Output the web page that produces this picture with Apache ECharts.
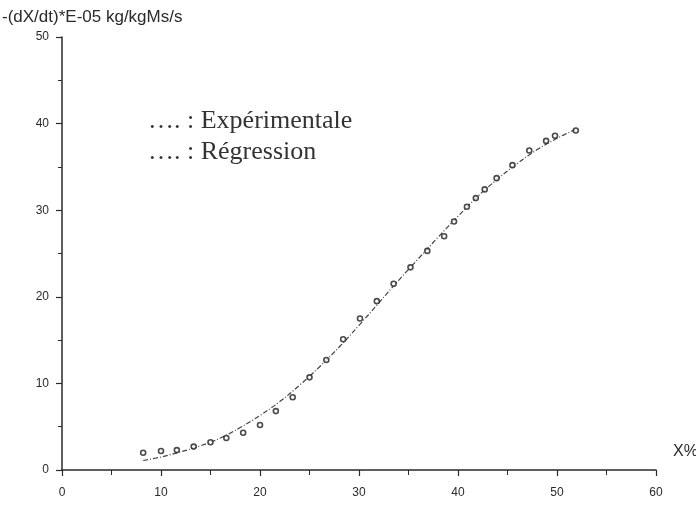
<!DOCTYPE html>
<html>
<head>
<meta charset="utf-8">
<script src="https://cdn.jsdelivr.net/npm/echarts@6/dist/echarts.min.js"></script>
<style>
  html, body { margin: 0; padding: 0; background: #fff; }
  #chart { width: 696px; height: 508px; }
</style>
</head>
<body>
<div id="chart"></div>
<script>
// Drying rate against moisture content X%
const expX = [8.2, 10.0, 11.6, 13.3, 15.0, 16.6, 18.3, 20.0, 21.6, 23.3, 25.0, 26.7, 28.4, 30.1, 31.8, 33.5, 35.2, 36.9, 38.6, 39.6, 40.9, 41.8, 42.7, 43.9, 45.5, 47.2, 48.9, 49.8, 51.9];
const expY = [2.0, 2.2, 2.3, 2.7, 3.2, 3.7, 4.3, 5.2, 6.8, 8.4, 10.7, 12.7, 15.1, 17.5, 19.5, 21.5, 23.4, 25.3, 27.0, 28.7, 30.4, 31.4, 32.4, 33.7, 35.2, 36.9, 38.0, 38.6, 39.2];

const regX = [8.2, 10, 12, 14, 16, 18, 20, 22, 24, 26, 28, 30, 32, 34, 36, 38, 40, 42, 44, 46, 48, 50, 52];
const regY = [1.1, 1.5, 2.1, 2.8, 3.7, 4.9, 6.3, 7.9, 9.8, 11.9, 14.2, 16.7, 19.3, 21.9, 24.4, 26.9, 29.3, 31.6, 33.6, 35.4, 37.0, 38.3, 39.4];

const xTicks = [0, 10, 20, 30, 40, 50, 60];
const yTicks = [0, 10, 20, 30, 40, 50];

const yTitle = '-(dX/dt)*E-05 kg/kgMs/s';
const xTitle = 'X%';
const legendLines = ['…. : Expérimentale', '…. : Régression'];

const ink = '#2a2a2a';
const chart = echarts.init(document.getElementById('chart'));

chart.setOption({
  backgroundColor: '#fff',
  animation: false,
  grid: { left: 62, right: 40, top: 37, bottom: 38 },
  xAxis: {
    type: 'value',
    min: xTicks[0], max: xTicks[xTicks.length - 1], interval: 10,
    axisLine: { show: true, lineStyle: { color: ink, width: 1.5 } },
    axisTick: { show: true, length: 6, lineStyle: { color: ink, width: 1.2 } },
    minorTick: { show: true, splitNumber: 2, length: 5, lineStyle: { color: ink } },
    splitLine: { show: false },
    axisLabel: { color: ink, fontSize: 12, fontFamily: 'Liberation Sans', margin: 17 }
  },
  yAxis: {
    type: 'value',
    min: yTicks[0], max: yTicks[yTicks.length - 1], interval: 10,
    axisLine: { show: true, lineStyle: { color: ink, width: 1.5 } },
    axisTick: { show: true, length: 6, lineStyle: { color: ink, width: 1.2 } },
    minorTick: { show: true, splitNumber: 2, length: 4, lineStyle: { color: ink } },
    splitLine: { show: false },
    axisLabel: { color: ink, fontSize: 12, fontFamily: 'Liberation Sans', margin: 13 }
  },
  series: [
    {
      name: 'Régression',
      type: 'line',
      data: regX.map((x, i) => [x, regY[i]]),
      smooth: 0.4,
      showSymbol: false,
      lineStyle: { color: '#444', width: 1.2, type: [5, 2, 1, 2] },
      z: 2
    },
    {
      name: 'Expérimentale',
      type: 'scatter',
      data: expX.map((x, i) => [x, expY[i]]),
      symbol: 'circle',
      symbolSize: 5,
      itemStyle: { color: '#fff', borderColor: '#1e1e1e', borderWidth: 1.6 },
      z: 3
    }
  ],
  graphic: [
    { type: 'text', left: 2, top: 9,
      style: { text: yTitle, fill: ink, font: '17px "Liberation Sans"' } },
    { type: 'text', left: 673, top: 444,
      style: { text: xTitle, fill: ink, font: '16px "Liberation Sans"' } },
    { type: 'text', left: 148, top: 108,
      style: { text: legendLines[0], fill: '#333', font: '26px "Liberation Serif"' } },
    { type: 'text', left: 148, top: 139,
      style: { text: legendLines[1], fill: '#333', font: '26px "Liberation Serif"' } }
  ]
});
</script>
</body>
</html>
